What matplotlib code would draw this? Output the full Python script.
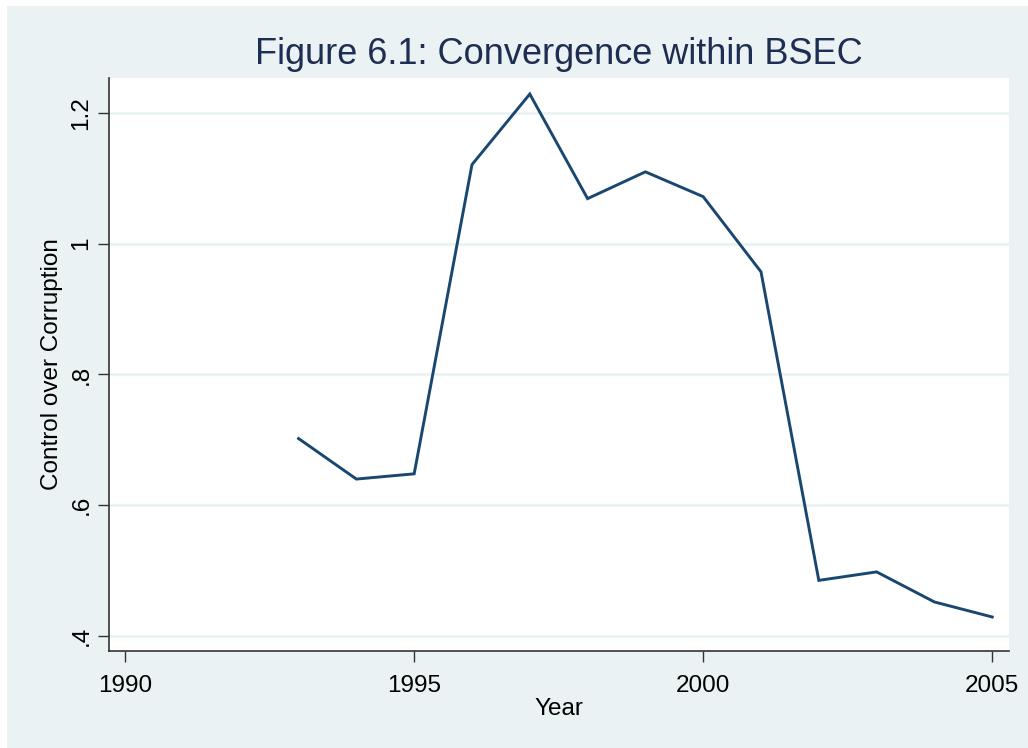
"""Recreate the Stata-style line chart: Figure 6.1 Convergence within BSEC."""

import matplotlib

matplotlib.use("Agg")
import matplotlib.pyplot as plt
from matplotlib.patches import Rectangle

years = [1993, 1994, 1995, 1996, 1997, 1998, 1999, 2000, 2001, 2002, 2003, 2004, 2005]
control = [0.702, 0.640, 0.648, 1.121, 1.229, 1.069, 1.110, 1.072, 0.957, 0.485, 0.498, 0.452, 0.429]

x_ticks = [1990, 1995, 2000, 2005]
y_ticks = [0.4, 0.6, 0.8, 1.0, 1.2]
y_tick_labels = [".4", ".6", ".8", "1", "1.2"]

plt.rcParams["font.family"] = ["Liberation Sans", "DejaVu Sans"]

fig = plt.figure(figsize=(10.28, 7.48), dpi=100, facecolor="white")
# graph region background (Stata s2color)
fig.patches.append(
    Rectangle((7 / 1028, 0), 1 - 7 / 1028, 1 - 6 / 748, transform=fig.transFigure,
              facecolor="#eaf2f3", edgecolor="none", zorder=-5)
)

ax = fig.add_axes([0.106, 0.1297, 0.8755, 0.766])
ax.set_zorder(2)
ax.set_facecolor("white")

ax.plot(years, control, color="#1a476f", linewidth=2.1, solid_joinstyle="miter", zorder=3)

ax.set_xlim(1989.72, 2005.29)
ax.set_ylim(0.377, 1.2535)
ax.set_xticks(x_ticks)
ax.set_yticks(y_ticks)
ax.set_yticklabels(y_tick_labels, rotation=90, va="center")
ax.tick_params(axis="both", direction="out", length=8, width=1, color="#333333",
               labelsize=17.5, labelcolor="black")
ax.tick_params(axis="y", pad=4)
ax.tick_params(axis="x", pad=9)

ax.grid(axis="y", color="#eaf2f3", linewidth=2)
ax.set_axisbelow(True)

for side in ["top", "right"]:
    ax.spines[side].set_visible(False)
for side in ["left", "bottom"]:
    ax.spines[side].set_color("#333333")
    ax.spines[side].set_linewidth(1.2)

ax.set_xlabel("Year", fontsize=17.5, labelpad=1)
ax.set_ylabel("Control over Corruption", fontsize=17.5, labelpad=5)

fig.text(0.5435, 1 - 55 / 748, "Figure 6.1: Convergence within BSEC", fontsize=26,
         color="#1e2d52", ha="center", va="center")

fig.savefig("out.png", dpi=100, facecolor=fig.get_facecolor())
